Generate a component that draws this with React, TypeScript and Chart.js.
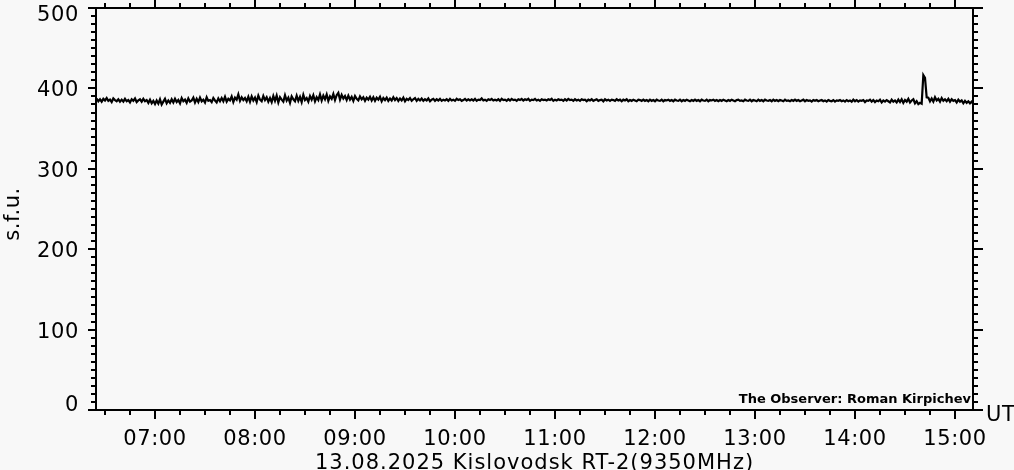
import { useEffect, useRef } from "react";
import { Chart, registerables } from "chart.js";
Chart.register(...registerables);

// Kislovodsk RT-2, 9350 MHz, 13.08.2025 — one sample per minute starting 06:25 UT
const startMinute = 385;
const stepMinutes = 1;
const flux: number[] = [
  387.5, 384.0, 386.5, 383.5, 387.0, 385.0, 388.0, 384.5, 386.0, 383.0, 387.5, 385.5, 384.0, 386.5, 383.5,
  386.0, 383.5, 387.0, 384.0, 385.5, 382.5, 386.5, 384.5, 387.5, 383.0, 385.0, 386.5, 383.5, 387.0, 384.0,
  385.5, 382.0, 386.0, 381.5, 384.5, 380.5, 385.0, 381.0, 386.5, 380.0, 383.5, 387.0, 381.5, 385.0, 382.0,
  386.5, 382.5, 387.0, 383.0, 385.5, 381.5, 388.0, 384.0, 386.0, 382.0, 387.5, 383.5, 385.0, 388.5, 382.5,
  387.0, 383.0, 388.5, 384.0, 386.0, 382.5, 389.0, 384.5, 385.5, 383.0, 388.0, 385.0, 382.5, 387.5, 384.0,
  388.0, 384.0, 389.5, 383.5, 387.0, 385.0, 390.0, 383.0, 388.5, 386.0, 392.5, 384.5, 389.0, 385.5, 388.0,
  384.0, 389.5, 383.5, 390.0, 385.0, 388.5, 383.0, 391.0, 386.0, 384.0, 390.5, 385.5, 389.0, 383.5, 388.0,
  383.0, 390.5, 384.5, 391.0, 382.5, 389.0, 386.0, 383.5, 391.5, 385.0, 388.5, 382.0, 390.0, 386.5, 384.0,
  391.0, 384.5, 389.5, 383.0, 392.0, 385.5, 388.0, 383.5, 390.5, 386.0, 391.5, 384.0, 389.0, 385.5, 392.5,
  385.0, 391.0, 386.5, 392.5, 384.5, 390.0, 387.0, 393.0, 385.5, 391.5, 394.5, 386.0, 392.0, 387.5, 390.5,
  385.5, 391.0, 386.0, 389.5, 384.5, 390.5, 387.0, 385.0, 390.0, 386.5, 389.0, 384.5, 388.5, 386.0, 389.5,
  385.0, 389.0, 384.5, 388.5, 386.0, 389.5, 384.0, 388.0, 385.5, 388.5, 384.5, 387.5, 385.0, 389.0, 385.5,
  388.0, 384.5, 387.5, 385.0, 388.5, 384.0, 387.0, 385.5, 388.0, 384.5, 386.5, 388.0, 384.5, 387.0, 385.0,
  387.5, 384.5, 386.5, 385.0, 387.5, 384.0, 386.0, 387.0, 384.5, 386.5, 385.0, 387.0, 384.5, 386.0, 385.0,
  386.5, 384.5, 387.0, 385.0, 386.0, 384.5, 387.0, 385.5, 386.5, 384.5, 385.5, 387.0, 385.0, 386.5, 385.0,
  386.5, 385.0, 387.0, 384.5, 386.0, 385.5, 387.5, 385.0, 386.0, 384.5, 386.5, 385.5, 387.0, 385.0, 386.0,
  385.0, 386.5, 384.5, 387.0, 385.5, 386.0, 384.5, 386.5, 385.0, 387.0, 385.5, 386.0, 384.5, 386.5, 385.5,
  387.0, 385.0, 386.5, 385.5, 387.0, 384.5, 386.0, 385.5, 387.0, 385.0, 386.0, 384.5, 386.5, 385.5, 386.0,
  385.0, 386.5, 385.5, 387.0, 384.5, 386.0, 385.0, 386.5, 385.5, 386.0, 384.5, 386.5, 385.0, 387.0, 385.5,
  386.0, 384.5, 386.5, 385.0, 386.0, 384.5, 386.5, 385.5, 386.0, 384.0, 386.0, 385.0, 386.5, 384.5, 385.5,
  386.5, 384.5, 385.5, 386.0, 384.0, 386.5, 385.0, 386.0, 384.5, 386.0, 385.5, 384.5, 386.5, 385.0, 386.0,
  384.0, 386.0, 385.0, 386.5, 384.0, 385.5, 384.5, 386.0, 385.0, 384.0, 386.0, 385.5, 384.5, 386.0, 384.5,
  385.5, 384.0, 386.0, 384.5, 385.5, 384.0, 386.0, 385.0, 384.5, 386.0, 384.0, 385.5, 385.0, 386.0, 384.5,
  385.5, 384.0, 386.0, 385.0, 384.5, 386.0, 384.0, 385.5, 384.5, 386.0, 385.0, 384.0, 385.5, 384.5, 386.0,
  384.5, 385.5, 384.0, 386.0, 385.0, 384.5, 386.0, 384.0, 385.5, 385.0, 386.0, 384.5, 385.5, 384.0, 385.5,
  384.5, 386.0, 385.0, 384.0, 385.5, 384.5, 386.0, 385.0, 384.0, 385.5, 386.0, 384.5, 385.0, 384.0, 386.0,
  385.0, 384.5, 386.0, 384.0, 385.5, 385.0, 384.0, 386.0, 384.5, 385.5, 384.0, 386.0, 385.0, 384.5, 385.5,
  384.0, 386.0, 384.5, 385.5, 384.0, 385.5, 385.0, 384.0, 386.0, 384.5, 385.0, 384.0, 385.5, 384.5, 386.0,
  384.5, 385.5, 384.0, 385.0, 386.0, 384.0, 385.5, 384.5, 385.0, 383.5, 385.5, 384.5, 385.5, 384.0, 385.0,
  385.5, 384.0, 385.0, 383.5, 385.5, 384.5, 384.0, 385.5, 383.5, 385.0, 384.5, 385.5, 384.0, 385.0, 383.5,
  385.5, 384.0, 385.0, 383.5, 386.0, 384.0, 385.5, 383.5, 385.0, 384.5, 385.5, 383.0, 385.0, 384.5, 386.0,
  383.5, 385.5, 383.0, 385.0, 384.0, 386.0, 382.5, 385.0, 383.5, 385.5, 384.0, 382.5, 386.0, 383.5, 385.0,
  382.5, 386.0, 383.0, 386.5, 382.0, 385.5, 383.5, 387.0, 382.5, 385.0, 386.5, 381.5, 384.0, 380.5, 382.0,
  381.0, 416.5, 413.0, 389.0, 388.5, 384.0, 387.5, 383.5, 389.0, 385.0, 387.0, 383.5, 388.0, 384.5, 386.5,
  384.0, 387.0, 383.5, 386.5, 384.5, 385.5, 382.5, 386.0, 383.5, 385.0, 381.5, 384.5, 382.0, 384.0, 381.5,
  383.5, 381.0,
];

const xMin = 384.6; // 06:24.6 UT
const xMax = 910.8; // 15:10.8 UT
const hourTicks = [420, 480, 540, 600, 660, 720, 780, 840, 900];
const hourLabels = ["07:00", "08:00", "09:00", "10:00", "11:00", "12:00", "13:00", "14:00", "15:00"];
const yMajorTicks = [0, 100, 200, 300, 400, 500];
const yMajorLabels = ["0", "100", "200", "300", "400", "500"];
const title = "13.08.2025 Kislovodsk RT-2(9350MHz)";
const yTitle = "s.f.u.";
const xUnit = "UT";
const credit = "The Observer: Roman Kirpichev";

const FONT = "21px 'DejaVu Sans'";

const axesPlugin = {
  id: "idlAxes",
  beforeDraw(chart: any) {
    const ctx = chart.ctx;
    ctx.save();
    ctx.fillStyle = "#f8f8f8";
    ctx.fillRect(0, 0, chart.width, chart.height);
    ctx.restore();
  },
  afterDraw(chart: any) {
    const ctx = chart.ctx as CanvasRenderingContext2D;
    const c = ctx as any;
    const xs = chart.scales.x;
    const ys = chart.scales.y;
    const { left, right, top, bottom } = chart.chartArea;
    const L = Math.round(left) - 1;
    const R = Math.round(right) - 1;
    const T = Math.round(top) - 1;
    const B = Math.round(bottom) - 1;
    ctx.save();
    ctx.fillStyle = "#000";
    // frame
    ctx.fillRect(L - 7, T, R + 11 - (L - 7), 2);
    ctx.fillRect(L - 7, B, R + 11 - (L - 7), 2);
    ctx.fillRect(L, T, 2, B - T + 2);
    ctx.fillRect(R, T, 2, B - T + 2);
    // y ticks (every 10, major every 100)
    for (let v = 0; v <= 500; v += 10) {
      const py = Math.round(ys.getPixelForValue(v)) - 1;
      const major = v % 100 === 0;
      const lenL = major ? 7 : 4;
      const lenR = major ? 10 : 5;
      ctx.fillRect(L - lenL, py, lenL, 2);
      ctx.fillRect(R + 2, py, lenR - 1, 2);
    }
    // x ticks (every 15 min, major every hour)
    for (let m = 390; m <= xMax; m += 15) {
      if (m < xMin) continue;
      const px = Math.round(xs.getPixelForValue(m)) - 1;
      const major = m % 60 === 0;
      const lenB = major ? 9 : 5;
      const lenT = major ? 7 : 4;
      ctx.fillRect(px, B + 2, 2, lenB - 1);
      ctx.fillRect(px, T - lenT, 2, lenT);
    }
    // labels
    ctx.font = FONT;
    c.letterSpacing = "0.6px";
    ctx.textAlign = "right";
    ctx.textBaseline = "alphabetic";
    yMajorTicks.forEach((v, i) => {
      const py = ys.getPixelForValue(v);
      const base = Math.min(Math.max(py + 8, 21), 411);
      ctx.fillText(yMajorLabels[i], 79, base);
    });
    ctx.textAlign = "center";
    hourTicks.forEach((m, i) => {
      const px = xs.getPixelForValue(m);
      ctx.fillText(hourLabels[i], px, 445);
    });
    c.letterSpacing = "1px";
    ctx.fillText(title, (left + right) / 2, 469);
    c.letterSpacing = "0.6px";
    ctx.textAlign = "left";
    ctx.fillText(xUnit, 986, 421);
    // y title
    ctx.save();
    ctx.translate(19, 214);
    ctx.rotate(-Math.PI / 2);
    ctx.textAlign = "center";
    ctx.fillText(yTitle, 0, 0);
    ctx.restore();
    // credit
    ctx.font = "bold 13px 'DejaVu Sans'";
    c.letterSpacing = "0px";
    ctx.textAlign = "right";
    ctx.fillText(credit, 971, 403);
    ctx.restore();
  },
};

export default function App() {
  const ref = useRef<HTMLCanvasElement | null>(null);
  useEffect(() => {
    document.body.style.margin = "0";
    document.body.style.background = "#f8f8f8";
    const canvas = ref.current!;
    const points = flux.map((v, i) => ({ x: startMinute + i * stepMinutes, y: v }));
    const chart = new Chart(canvas, {
      type: "line",
      data: {
        datasets: [
          {
            data: points,
            borderColor: "#000",
            borderWidth: 2.2,
            pointRadius: 0,
            tension: 0,
            fill: false,
          },
        ],
      },
      options: {
        animation: false,
        responsive: false,
        maintainAspectRatio: false,
        layout: { padding: { left: 96, right: 41, top: 8, bottom: 60 } },
        plugins: { legend: { display: false }, tooltip: { enabled: false }, title: { display: false } },
        scales: {
          x: { type: "linear", min: xMin, max: xMax, display: false },
          y: { type: "linear", min: 0, max: 500, display: false },
        },
      },
      plugins: [axesPlugin],
    });
    return () => chart.destroy();
  }, []);
  return (
    <div style={{ width: 1014, height: 470 }}>
      <canvas ref={ref} width={1014} height={470} style={{ display: "block" }} />
    </div>
  );
}
